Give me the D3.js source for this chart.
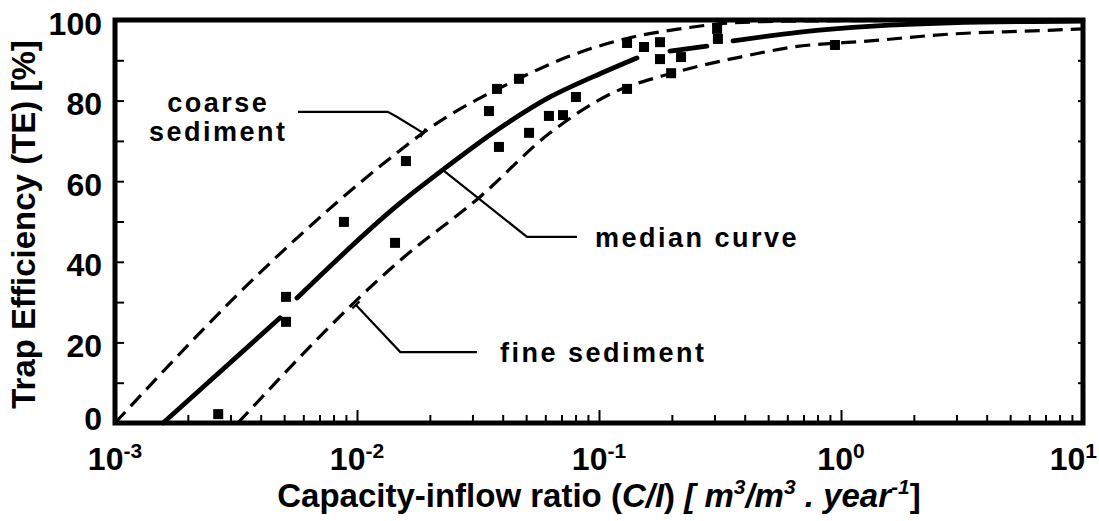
<!DOCTYPE html>
<html>
<head>
<meta charset="utf-8">
<script src="https://cdn.jsdelivr.net/npm/d3@7"></script>
<style>
  body { margin: 0; background: #fff; }
  svg { display: block; }
  text { font-family: "Liberation Sans", Arial, sans-serif; font-weight: bold; fill: #000; }
</style>
</head>
<body>
<svg id="chart" width="1099" height="521"></svg>
<script>
// ---- axis definitions ----
const xDomain = [1e-3, 10];
const yDomain = [0, 100];
const xTickValues = [1e-3, 1e-2, 1e-1, 1, 10];
const xTickExponents = ["-3", "-2", "-1", "0", "1"];
const yTickValues = [0, 20, 40, 60, 80, 100];

// ---- envelope and median curves (C/I ratio, trap efficiency %) ----
const coarseX  = [0.001, 0.0045, 0.0151, 0.01875, 0.0472, 0.0738, 0.1435, 0.216, 0.358, 0.678, 10];
const coarseTE = [0, 40.4, 67.7, 72.0, 85.6, 90.8, 96.0, 97.8, 99.3, 99.75, 100];

// null entries mark where the pen was lifted
const medianX  = [0.00158, 0.00481, null, 0.00565, 0.0151, 0.0226, 0.0390, 0.0628, 0.0944, 0.1435, null, 0.1963, 0.279, null, 0.358, 0.678, 1.355, 2.82, 10];
const medianTE = [0, 26.1, null, 31.0, 54.6, 62.8, 73.2, 80.9, 85.9, 90.6, null, 92.3, 93.5, null, 94.8, 97.0, 98.5, 99.3, 99.75];

const fineX  = [0.00322, 0.0151, 0.0322, 0.0628, 0.1186, 0.182, 0.261, 0.383, 0.634, 1.318, 2.82, 6.21, 10];
const fineTE = [0, 40.4, 56.1, 72.0, 82.4, 86.1, 88.6, 90.8, 93.3, 94.8, 96.5, 97.3, 97.8];

// ---- observed reservoirs ----
const obsX  = [0.00267, 0.00509, 0.00509, 0.00883, 0.01436, 0.01593, 0.0351, 0.0379, 0.0386, 0.0467, 0.0514, 0.0621, 0.0710, 0.0803, 0.1306, 0.1306, 0.1535, 0.1787, 0.1787, 0.1986, 0.2183, 0.3076, 0.310, 0.944];
const obsTE = [2.2, 31.3, 25.1, 49.9, 44.7, 65.0, 77.4, 82.9, 68.5, 85.4, 72.0, 76.2, 76.4, 80.9, 94.3, 82.9, 93.3, 94.5, 90.3, 86.8, 90.8, 97.8, 95.3, 93.8];

// ---- curve labels with their leader lines (data units) ----
const labelNames = [["coarse", "sediment"], ["median curve"], ["fine sediment"]];
const labelAnchorX = [0.00267, 0.0962, 0.0390];
const labelAnchorTE = [77.2, 43.7, 15.1];
const labelAlign = ["middle", "start", "start"];
const leaderX  = [[0.0057, 0.0134, 0.0146, 0.01875], [0.0811, 0.0504, 0.0226], [0.0313, 0.0151, 0.0099]];
const leaderTE = [[77.2, 77.2, 76.0, 72.0], [46.2, 46.2, 62.8], [17.6, 17.6, 29.3]];

const svg = d3.select("#chart");
const x = d3.scaleLog().domain(xDomain).range([115, 1083]);
const y = d3.scaleLinear().domain(yDomain).range([423, 20]);

const zip = (xs, ys) => xs.map((v, i) => (v === null ? null : [v, ys[i]]));

const line = d3.line()
  .defined(d => d !== null)
  .x(d => x(d[0]))
  .y(d => y(d[1]))
  .curve(d3.curveMonotoneX);

// ---- ticks ----
const minorX = x.ticks().filter(v => !xTickValues.some(t => Math.abs(t - v) / t < 1e-9));

function styleTicks(g) {
  g.select(".domain").remove();
  g.selectAll(".tick line").attr("stroke", "#000").attr("stroke-width", 2);
}

svg.append("g")
  .attr("transform", `translate(0,${y(0)})`)
  .call(d3.axisBottom(x).tickValues(minorX).tickSize(-8).tickFormat(""))
  .call(styleTicks);

svg.append("g")
  .attr("transform", `translate(0,${y(0)})`)
  .call(d3.axisBottom(x).tickValues(xTickValues).tickSize(-13).tickFormat(""))
  .call(styleTicks);

svg.append("g")
  .attr("transform", `translate(${x(xDomain[0])},0)`)
  .call(d3.axisLeft(y).tickValues(d3.range(10, 100, 10)).tickSize(-9).tickFormat(""))
  .call(styleTicks);

svg.append("g")
  .attr("transform", `translate(${x(xDomain[1])},0)`)
  .call(d3.axisRight(y).tickValues(d3.range(10, 100, 10)).tickSize(-5).tickFormat(""))
  .call(styleTicks);

// ---- curves ----
svg.append("path")
  .attr("d", line(zip(coarseX, coarseTE)))
  .attr("fill", "none").attr("stroke", "#000")
  .attr("stroke-width", 3.2).attr("stroke-dasharray", "15,8");

svg.append("path")
  .attr("d", line(zip(fineX, fineTE)))
  .attr("fill", "none").attr("stroke", "#000")
  .attr("stroke-width", 3.2).attr("stroke-dasharray", "15,8");

svg.append("path")
  .attr("d", line(zip(medianX, medianTE)))
  .attr("fill", "none").attr("stroke", "#000")
  .attr("stroke-width", 4.8).attr("stroke-linecap", "round");

// ---- observations ----
const sq = 10;
svg.append("g").selectAll("rect")
  .data(zip(obsX, obsTE))
  .join("rect")
  .attr("x", d => x(d[0]) - sq / 2)
  .attr("y", d => y(d[1]) - sq / 2)
  .attr("width", sq).attr("height", sq)
  .attr("fill", "#000");

// ---- frame ----
svg.append("rect")
  .attr("x", x(xDomain[0])).attr("y", y(yDomain[1]))
  .attr("width", x(xDomain[1]) - x(xDomain[0]))
  .attr("height", y(yDomain[0]) - y(yDomain[1]))
  .attr("fill", "none").attr("stroke", "#000").attr("stroke-width", 5);

// ---- leader lines with a short cross bar where they meet the curve ----
const leaderLine = d3.line().x(d => x(d[0])).y(d => y(d[1]));
leaderX.forEach((xs, i) => {
  const pts = zip(xs, leaderTE[i]);
  svg.append("path")
    .attr("d", leaderLine(pts))
    .attr("fill", "none").attr("stroke", "#000").attr("stroke-width", 2.2);
  const a = pts[pts.length - 2], b = pts[pts.length - 1];
  const dx = x(b[0]) - x(a[0]), dy = y(b[1]) - y(a[1]);
  const len = Math.hypot(dx, dy), nx = -dy / len * 5, ny = dx / len * 5;
  svg.append("line")
    .attr("x1", x(b[0]) - nx).attr("y1", y(b[1]) - ny)
    .attr("x2", x(b[0]) + nx).attr("y2", y(b[1]) + ny)
    .attr("stroke", "#000").attr("stroke-width", 2.2);
});

// ---- curve labels ----
labelNames.forEach((lines, i) => {
  lines.forEach((s, j) => {
    svg.append("text")
      .attr("x", x(labelAnchorX[i]))
      .attr("y", y(labelAnchorTE[i]) + j * 29)
      .attr("text-anchor", labelAlign[i])
      .attr("font-size", 27)
      .attr("letter-spacing", 2.5)
      .text(s);
  });
});

// ---- tick labels ----
// the zero label sits just above the x axis so it clears the decade labels
svg.append("g").selectAll("text")
  .data(yTickValues)
  .join("text")
  .attr("x", 102)
  .attr("y", d => y(d) + (d === 0 ? -5 : 3))
  .attr("dy", "0.36em")
  .attr("text-anchor", "end")
  .attr("font-size", 32)
  .text(d => d);

// the last decade label is pulled inside the page edge
const lastTick = xTickValues.length - 1;
const xl = svg.append("g").selectAll("text")
  .data(xTickValues)
  .join("text")
  .attr("x", (d, i) => (i === lastTick ? 1097 : x(d)))
  .attr("y", 470)
  .attr("text-anchor", (d, i) => (i === lastTick ? "end" : "middle"))
  .attr("font-size", 32);
xl.append("tspan").text("10");
xl.append("tspan").attr("dy", -12).attr("font-size", 21).text((d, i) => xTickExponents[i]);

// ---- axis titles ----
const xt = svg.append("text")
  .attr("x", (x(xDomain[0]) + x(xDomain[1])) / 2)
  .attr("y", 507)
  .attr("text-anchor", "middle")
  .attr("font-size", 33);
xt.append("tspan").text("Capacity-inflow ratio (");
xt.append("tspan").attr("font-style", "italic").text("C/I");
xt.append("tspan").text(") ");
xt.append("tspan").attr("font-style", "italic").text("[ m");
xt.append("tspan").attr("font-style", "italic").attr("font-size", 21).attr("dy", -13).text("3");
xt.append("tspan").attr("font-style", "italic").attr("dy", 13).text("/m");
xt.append("tspan").attr("font-style", "italic").attr("font-size", 21).attr("dy", -13).text("3");
xt.append("tspan").attr("font-style", "italic").attr("dy", 13).text(" . year");
xt.append("tspan").attr("font-style", "italic").attr("font-size", 21).attr("dy", -13).text("-1");
xt.append("tspan").attr("dy", 13).text("]");

svg.append("text")
  .attr("transform", `translate(35,${(y(0) + y(100)) / 2 + 3}) rotate(-90)`)
  .attr("text-anchor", "middle")
  .attr("font-size", 33)
  .text("Trap Efficiency (TE) [%]");
</script>
</body>
</html>
